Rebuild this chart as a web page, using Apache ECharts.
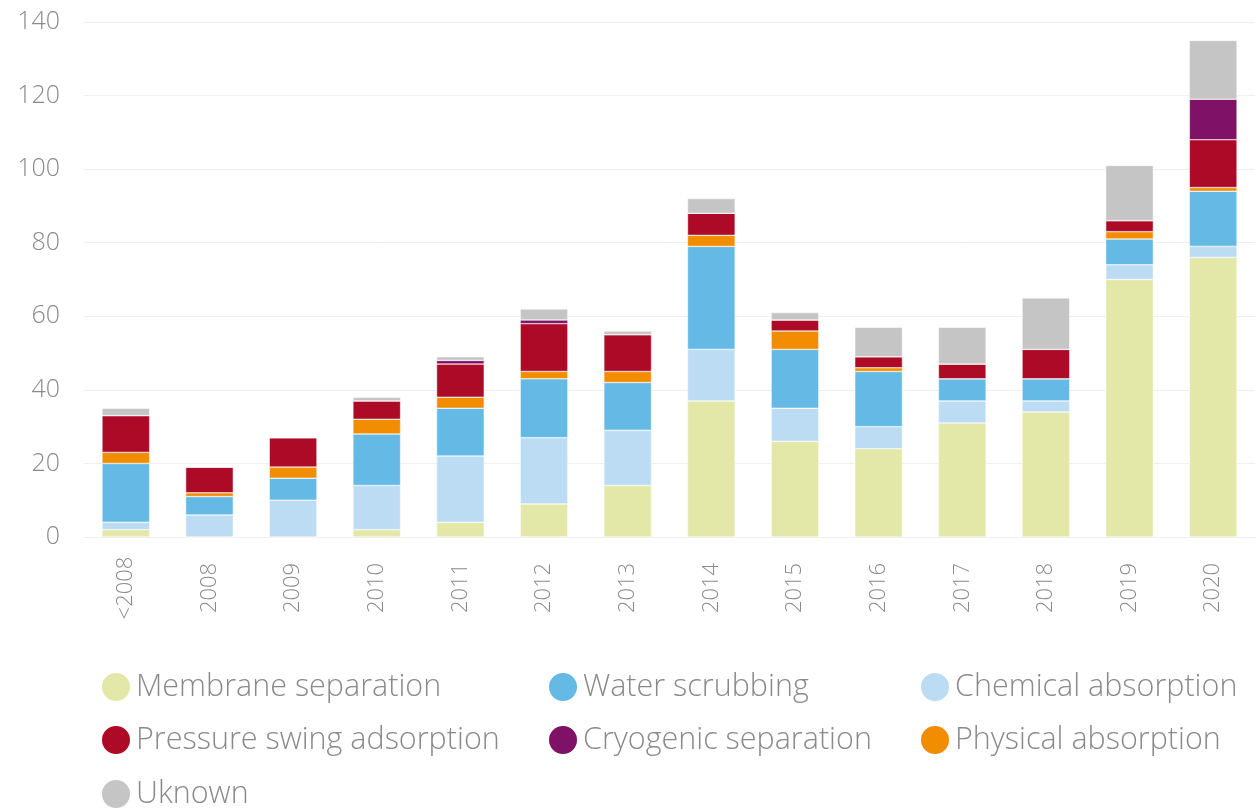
<!DOCTYPE html>
<html>
<head>
<meta charset="utf-8">
<script src="https://cdn.jsdelivr.net/npm/echarts@6/dist/echarts.min.js"></script>
<style>
  html, body { margin: 0; padding: 0; background: #fff; }
  #chart { width: 1260px; height: 810px; }
</style>
</head>
<body>
<div id="chart"></div>
<script>
// categories
const years = ['<2008', '2008', '2009', '2010', '2011', '2012', '2013', '2014', '2015', '2016', '2017', '2018', '2019', '2020'];

// series values (stacked, bottom to top)
const membrane = [2, 0, 0, 2, 4, 9, 14, 37, 26, 24, 31, 34, 70, 76];
const chemical = [2, 6, 10, 12, 18, 18, 15, 14, 9, 6, 6, 3, 4, 3];
const water = [16, 5, 6, 14, 13, 16, 13, 28, 16, 15, 6, 6, 7, 15];
const physical = [3, 1, 3, 4, 3, 2, 3, 3, 5, 1, 0, 0, 2, 1];
const psa = [10, 7, 8, 5, 9, 13, 10, 6, 3, 3, 4, 8, 3, 13];
const cryogenic = [0, 0, 0, 0, 1, 1, 0, 0, 0, 0, 0, 0, 0, 11];
const unknown = [2, 0, 0, 1, 1, 3, 1, 4, 2, 8, 10, 14, 15, 16];

const FONT = '"Open Sans", "Noto Sans", sans-serif';

const chart = echarts.init(document.getElementById('chart'));

function bar(name, data, color) {
  return {
    name: name,
    type: 'bar',
    stack: 'total',
    barWidth: '57%',
    data: data,
    itemStyle: { color: color, borderColor: '#ffffff', borderWidth: 0.5 },
    emphasis: { disabled: true }
  };
}

const legendText = { fontFamily: FONT, fontSize: 30.5, fontWeight: 300, color: '#8a8a8a' };

// one legend per entry so the three columns line up like the original
function legendItem(name, left, top) {
  return {
    left: left,
    top: top,
    padding: 0,
    icon: 'circle',
    itemWidth: 30,
    itemHeight: 30,
    itemGap: 0,
    textStyle: legendText,
    data: [name]
  };
}

const option = {
  animation: false,
  grid: {
    left: 84,
    right: 5,
    top: 22,
    bottom: 273
  },
  legend: [
    legendItem('Membrane separation', 100, 671),
    legendItem('Water scrubbing', 547, 671),
    legendItem('Chemical absorption', 919, 671),
    legendItem('Pressure swing adsorption', 100, 724),
    legendItem('Cryogenic separation', 547, 724),
    legendItem('Physical absorption', 919, 724),
    legendItem('Uknown', 100, 778)
  ],
  xAxis: {
    type: 'category',
    data: years,
    axisLine: { lineStyle: { color: '#eeeeee' } },
    axisTick: { show: false },
    axisLabel: {
      rotate: 90,
      align: 'center',
      verticalAlign: 'middle',
      margin: 51,
      fontFamily: FONT,
      fontSize: 22,
      fontWeight: 300,
      color: '#8a8a8a'
    }
  },
  yAxis: {
    type: 'value',
    min: 0,
    max: 140,
    interval: 20,
    axisLine: { show: false },
    axisTick: { show: false },
    splitLine: { lineStyle: { color: '#efefef', width: 1 } },
    axisLabel: {
      margin: 24,
      fontFamily: FONT,
      fontSize: 25,
      fontWeight: 300,
      color: '#8a8a8a'
    }
  },
  series: [
    bar('Membrane separation', membrane, '#e3e8a8'),
    bar('Chemical absorption', chemical, '#bcdcf3'),
    bar('Water scrubbing', water, '#64bae5'),
    bar('Physical absorption', physical, '#f28c00'),
    bar('Pressure swing adsorption', psa, '#ad0a27'),
    bar('Cryogenic separation', cryogenic, '#7f1166'),
    bar('Uknown', unknown, '#c5c5c5')
  ]
};

chart.setOption(option);
window.addEventListener('resize', function () {
  chart.resize();
});
</script>
</body>
</html>
